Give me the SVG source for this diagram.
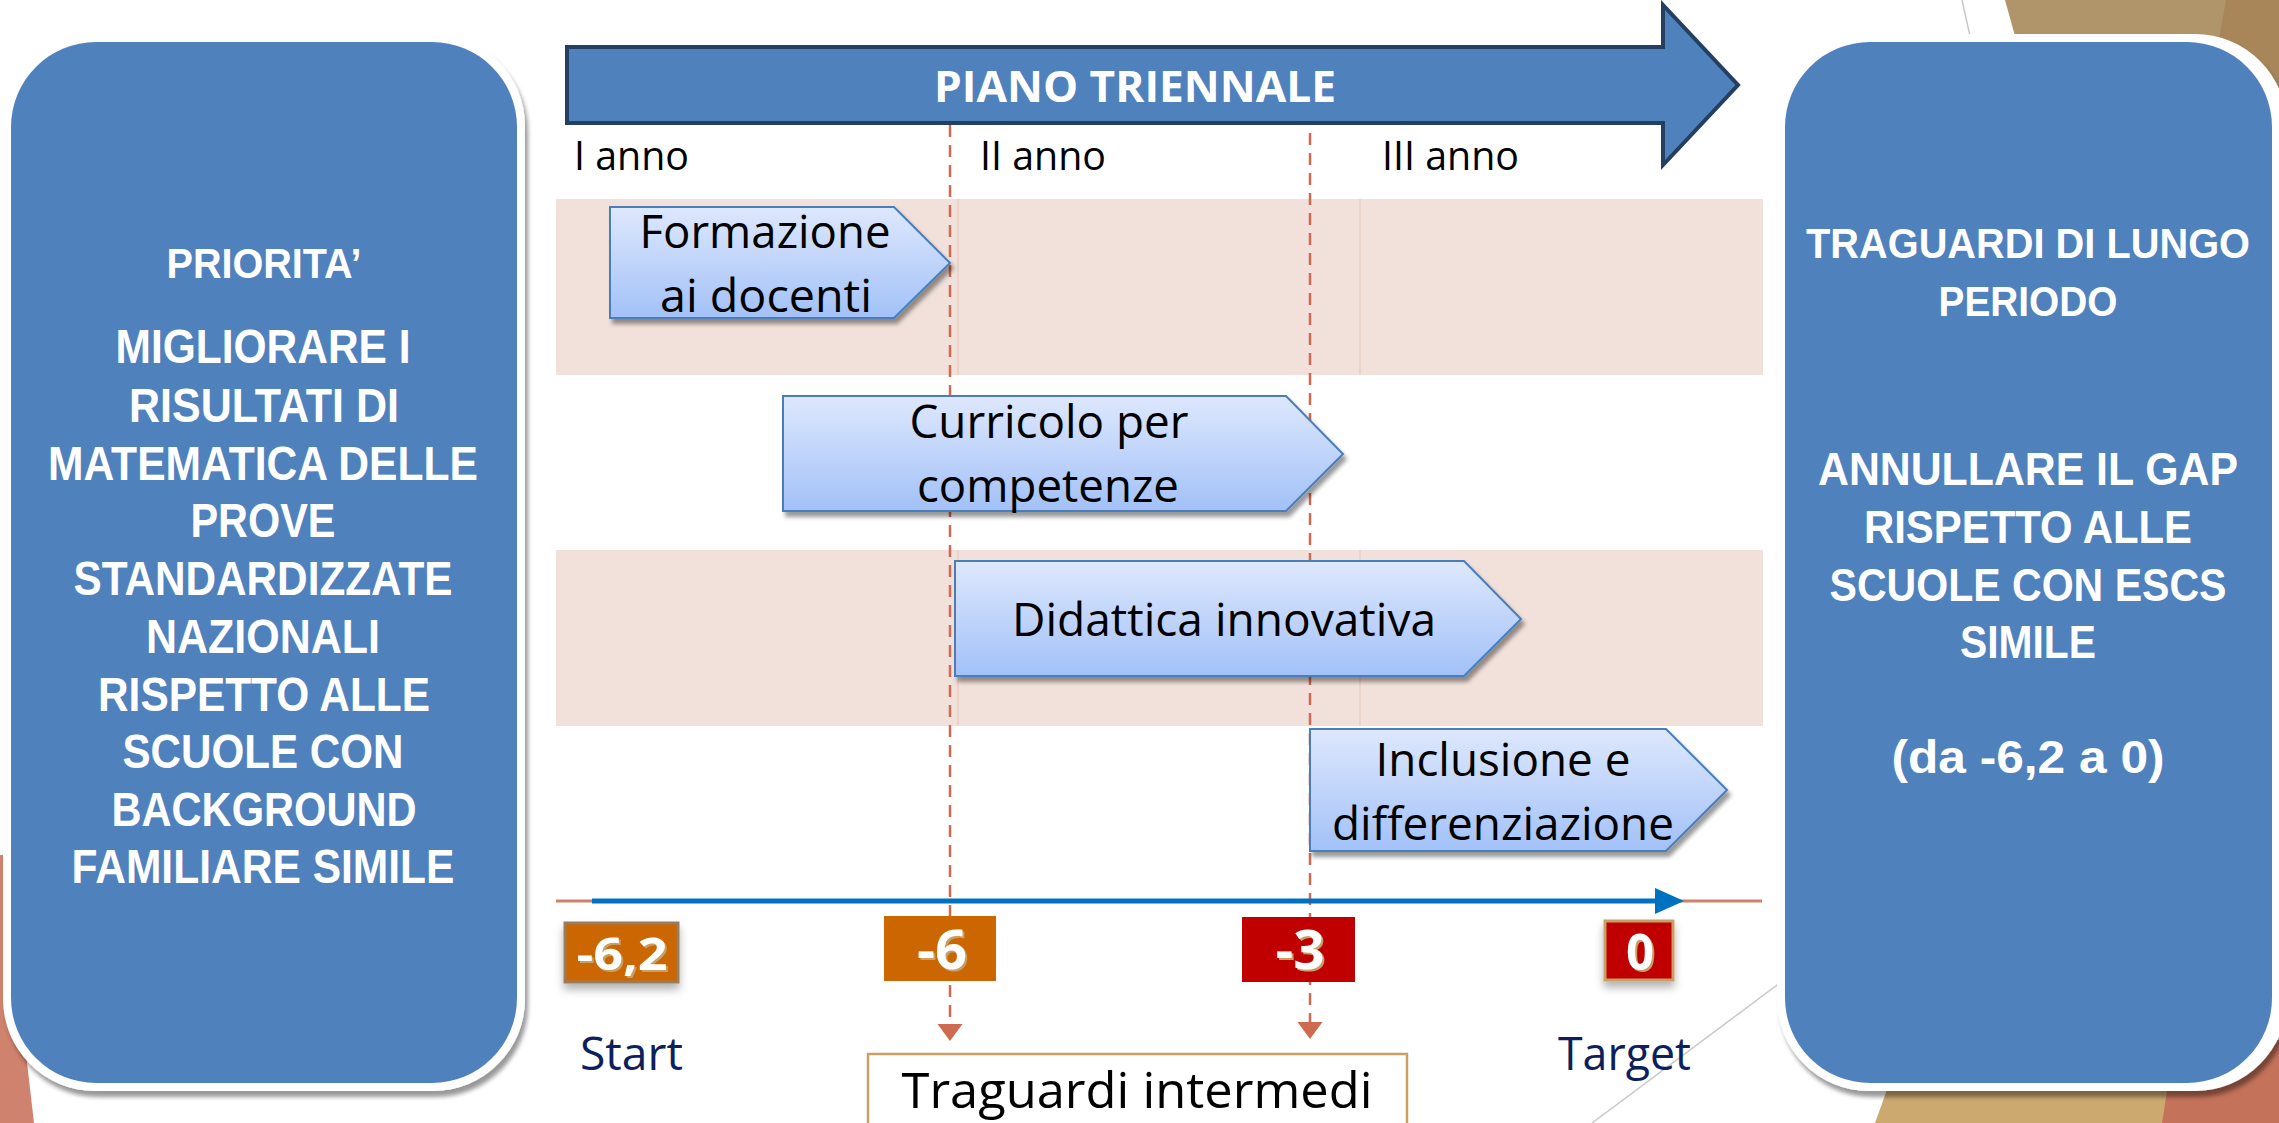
<svg xmlns="http://www.w3.org/2000/svg" width="2279" height="1123" viewBox="0 0 2279 1123">
<defs>
<linearGradient id="chev" x1="0" y1="0" x2="0" y2="1">
<stop offset="0" stop-color="#DEE8FD"/>
<stop offset="1" stop-color="#A2C1F8"/>
</linearGradient>
<filter id="sh" x="-10%" y="-10%" width="130%" height="140%">
<feDropShadow dx="3" dy="5" stdDeviation="2" flood-color="#000" flood-opacity="0.4"/>
</filter>
<filter id="bsh" x="-10%" y="-10%" width="120%" height="120%">
<feDropShadow dx="3" dy="6" stdDeviation="2" flood-color="#000" flood-opacity="0.4"/>
</filter>
<filter id="vsh" x="-20%" y="-20%" width="140%" height="160%">
<feDropShadow dx="0" dy="6" stdDeviation="4" flood-color="#000" flood-opacity="0.3"/>
</filter>
<filter id="tsh" x="-20%" y="-20%" width="140%" height="140%">
<feDropShadow dx="2" dy="2" stdDeviation="0.5" flood-color="#C9A063" flood-opacity="1"/>
</filter>
<style>
.bl{fill:#4F81BD}
.wt{font-family:"Open Sans","Noto Sans",sans-serif;font-weight:bold;fill:#fff;text-anchor:middle}
.wl{font-family:"Liberation Sans",Arial,sans-serif;font-weight:bold;fill:#fff;text-anchor:middle}
.ct{font-family:"Open Sans","Noto Sans",sans-serif;fill:#000;text-anchor:middle;font-size:45px}
.yr{font-family:"Open Sans","Noto Sans",sans-serif;fill:#000;font-size:40px}
.nv{font-family:"Open Sans","Noto Sans",sans-serif;fill:#0D1F5C;font-size:46px}
.chev{fill:url(#chev);stroke:#4A7EBB;stroke-width:2;filter:url(#sh)}
.band{fill:#F2E1DB}
.sep{stroke:#E9CEC4;stroke-width:1.5}
.dash{stroke:#CD6A50;stroke-width:2.5;stroke-dasharray:12 8;fill:none}
.val{font-family:"Open Sans","Noto Sans",sans-serif;font-weight:bold;fill:#fff;text-anchor:middle;filter:url(#tsh)}
.gl{stroke:#C8C8C8;stroke-width:1.5;fill:none}
</style>
</defs>

<g id="background">
<rect x="0" y="0" width="2279" height="1123" fill="#fff"/>
<polygon points="2005,0 2279,0 2279,90 2030,90" fill="#B0946A"/>
<polygon points="2226,0 2279,0 2279,90 2210,90" fill="#A8865A"/>
<polygon points="1875,1123 1905,1040 2279,1040 2279,1123" fill="#CBA96F"/>
<polygon points="2162,1123 2175,1040 2279,1040 2279,1123" fill="#C4725A"/>
<polygon points="0,855 3,855 34,1123 0,1123" fill="#CF826D"/>
<line class="gl" x1="1962" y1="0" x2="1972" y2="45"/>
<line class="gl" x1="1800" y1="968" x2="1592" y2="1123"/>
</g>

<g id="bands">
<rect class="band" x="556" y="199" width="1207" height="176"/>
<rect class="band" x="556" y="550" width="1207" height="176"/>
<line class="sep" x1="958" y1="199" x2="958" y2="375"/>
<line class="sep" x1="1360" y1="199" x2="1360" y2="375"/>
<line class="sep" x1="958" y1="550" x2="958" y2="726"/>
<line class="sep" x1="1360" y1="550" x2="1360" y2="726"/>
</g>

<g id="connectors">
<line class="dash" x1="950" y1="125" x2="950" y2="1024"/>
<path d="M937.5,1024 L962.5,1024 L950,1041 Z" fill="#CD6A50"/>
<line class="dash" x1="1310" y1="133" x2="1310" y2="1022"/>
<path d="M1297.5,1022 L1322.5,1022 L1310,1039 Z" fill="#CD6A50"/>
<line x1="556" y1="901" x2="1762" y2="901" stroke="#D0826A" stroke-width="3"/>
<line x1="592" y1="901" x2="1660" y2="901" stroke="#0070C0" stroke-width="5"/>
<path d="M1655,888 L1684,901 L1655,914 Z" fill="#0070C0"/>
</g>

<g id="priorita">
<rect x="3" y="34" width="522" height="1057" rx="92" fill="#fff" filter="url(#bsh)"/>
<rect class="bl" x="11" y="42" width="506" height="1041" rx="85"/>
<text class="wl" x="264" y="278" font-size="43" textLength="195" lengthAdjust="spacingAndGlyphs">PRIORITA’</text>
<text class="wl" x="263" y="363" font-size="49" textLength="295" lengthAdjust="spacingAndGlyphs">MIGLIORARE I</text>
<text class="wl" x="264" y="422" font-size="49" textLength="270" lengthAdjust="spacingAndGlyphs">RISULTATI DI</text>
<text class="wl" x="263" y="480" font-size="49" textLength="430" lengthAdjust="spacingAndGlyphs">MATEMATICA DELLE</text>
<text class="wl" x="263" y="537" font-size="49" textLength="145" lengthAdjust="spacingAndGlyphs">PROVE</text>
<text class="wl" x="263" y="595" font-size="49" textLength="379" lengthAdjust="spacingAndGlyphs">STANDARDIZZATE</text>
<text class="wl" x="263" y="653" font-size="49" textLength="234" lengthAdjust="spacingAndGlyphs">NAZIONALI</text>
<text class="wl" x="264" y="711" font-size="49" textLength="332" lengthAdjust="spacingAndGlyphs">RISPETTO ALLE</text>
<text class="wl" x="263" y="768" font-size="49" textLength="281" lengthAdjust="spacingAndGlyphs">SCUOLE CON</text>
<text class="wl" x="264" y="826" font-size="49" textLength="305" lengthAdjust="spacingAndGlyphs">BACKGROUND</text>
<text class="wl" x="263" y="883" font-size="49" textLength="383" lengthAdjust="spacingAndGlyphs">FAMILIARE SIMILE</text>
</g>

<g id="traguardi">
<rect x="1777" y="34" width="510" height="1057" rx="92" fill="#fff" filter="url(#bsh)"/>
<rect class="bl" x="1785" y="42" width="487" height="1041" rx="85"/>
<text class="wl" x="2028" y="258" font-size="42" textLength="444" lengthAdjust="spacingAndGlyphs">TRAGUARDI DI LUNGO</text>
<text class="wl" x="2028" y="316" font-size="42" textLength="179" lengthAdjust="spacingAndGlyphs">PERIODO</text>
<text class="wl" x="2028" y="485" font-size="46" textLength="420" lengthAdjust="spacingAndGlyphs">ANNULLARE IL GAP</text>
<text class="wl" x="2028" y="543" font-size="46" textLength="328" lengthAdjust="spacingAndGlyphs">RISPETTO ALLE</text>
<text class="wl" x="2028" y="601" font-size="46" textLength="397" lengthAdjust="spacingAndGlyphs">SCUOLE CON ESCS</text>
<text class="wl" x="2028" y="658" font-size="46" textLength="136" lengthAdjust="spacingAndGlyphs">SIMILE</text>
<text class="wl" x="2028" y="773" font-size="46" textLength="273" lengthAdjust="spacingAndGlyphs">(da -6,2 a 0)</text>
</g>

<g id="piano">
<path d="M567,47 H1663 V5 L1738,85 L1663,165 V123 H567 Z" fill="#4F81BD" stroke="#243F60" stroke-width="4"/>
<text class="wt" x="1135" y="102" font-size="43" textLength="402" lengthAdjust="spacingAndGlyphs">PIANO TRIENNALE</text>
</g>

<g id="years">
<text class="yr" x="574" y="170" textLength="115" lengthAdjust="spacingAndGlyphs">I anno</text>
<text class="yr" x="980" y="170" textLength="126" lengthAdjust="spacingAndGlyphs">II anno</text>
<text class="yr" x="1382" y="170" textLength="137" lengthAdjust="spacingAndGlyphs">III anno</text>
</g>

<g id="formazione">
<path class="chev" d="M610,207 H894 L950,263 L894,318 H610 Z"/>
<text class="ct" x="765" y="248" textLength="251" lengthAdjust="spacingAndGlyphs">Formazione</text>
<text class="ct" x="766" y="312" textLength="212" lengthAdjust="spacingAndGlyphs">ai docenti</text>
</g>
<g id="curricolo">
<path class="chev" d="M783,396 H1286 L1343,454 L1286,511 H783 Z"/>
<text class="ct" x="1049" y="438" textLength="279" lengthAdjust="spacingAndGlyphs">Curricolo per</text>
<text class="ct" x="1048" y="502" textLength="262" lengthAdjust="spacingAndGlyphs">competenze</text>
</g>
<g id="didattica">
<path class="chev" d="M955,561 H1464 L1521,619 L1464,676 H955 Z"/>
<text class="ct" x="1224" y="636" textLength="424" lengthAdjust="spacingAndGlyphs">Didattica innovativa</text>
</g>
<g id="inclusione">
<path class="chev" d="M1310,729 H1666 L1727,790 L1666,851 H1310 Z"/>
<text class="ct" x="1503" y="776" textLength="255" lengthAdjust="spacingAndGlyphs">Inclusione e</text>
<text class="ct" x="1503" y="840" textLength="342" lengthAdjust="spacingAndGlyphs">differenziazione</text>
</g>

<g id="v-start">
<rect x="565" y="923" width="113" height="59" fill="#CC6600" stroke="#9C7C58" stroke-width="3" filter="url(#vsh)"/>
<text class="val" x="622" y="970" font-size="45" textLength="91" lengthAdjust="spacingAndGlyphs">-6,2</text>
</g>
<g id="v-6">
<rect x="884" y="916" width="112" height="65" fill="#CC6600"/>
<text class="val" x="942" y="969" font-size="54" textLength="50" lengthAdjust="spacingAndGlyphs">-6</text>
</g>
<g id="v-3">
<rect x="1242" y="917" width="113" height="65" fill="#C00000"/>
<text class="val" x="1300" y="969" font-size="54" textLength="49" lengthAdjust="spacingAndGlyphs">-3</text>
</g>
<g id="v-0">
<rect x="1605" y="921" width="68" height="59" fill="#C00000" stroke="#C9A063" stroke-width="3" filter="url(#vsh)"/>
<text class="val" x="1640" y="970" font-size="50" textLength="28" lengthAdjust="spacingAndGlyphs">0</text>
</g>

<g id="start-label">
<text class="nv" x="580" y="1070" textLength="103" lengthAdjust="spacingAndGlyphs">Start</text>
</g>
<g id="target-label">
<text class="nv" x="1558" y="1070" textLength="133" lengthAdjust="spacingAndGlyphs">Target</text>
</g>

<g id="intermedi">
<rect x="868" y="1054" width="539" height="90" fill="#fff" stroke="#C9A063" stroke-width="2.5"/>
<text x="1137" y="1108" font-family="Open Sans, Noto Sans, sans-serif" font-size="50" text-anchor="middle" textLength="471" lengthAdjust="spacingAndGlyphs">Traguardi intermedi</text>
</g>
</svg>
